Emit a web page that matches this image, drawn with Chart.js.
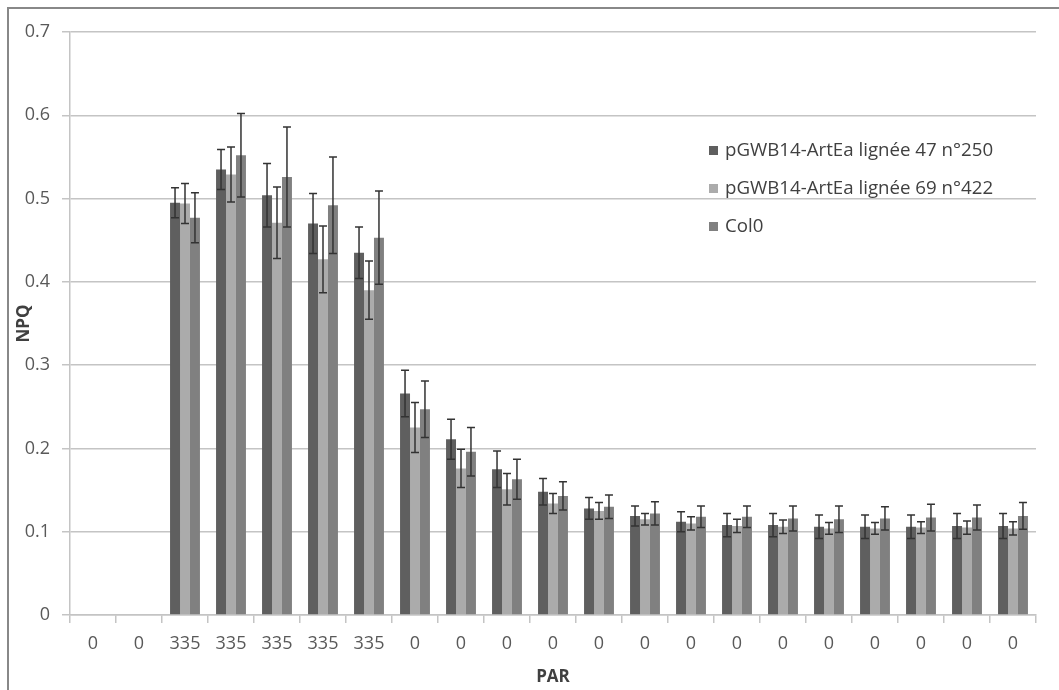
<!DOCTYPE html>
<html>
<head>
<meta charset="utf-8">
<script src="https://cdn.jsdelivr.net/npm/chart.js@4"></script>
<style>
  html, body { margin: 0; padding: 0; background: #fff; }
  #wrap { width: 1059px; height: 690px; }
</style>
</head>
<body>
<div id="wrap"><canvas id="npqChart" width="1059" height="690"></canvas></div>
<script>
const parLabels = ['0','0','335','335','335','335','335','0','0','0','0','0','0','0','0','0','0','0','0','0','0'];
const yTicks = [0, 0.1, 0.2, 0.3, 0.4, 0.5, 0.6, 0.7];
const seriesNames = ['pGWB14-ArtEa lignée 47 n°250', 'pGWB14-ArtEa lignée 69 n°422', 'Col0'];

const npq47 = [null, null, 0.495, 0.535, 0.504, 0.470, 0.435, 0.266, 0.211, 0.175, 0.148, 0.128, 0.119, 0.112, 0.108, 0.108, 0.106, 0.106, 0.106, 0.107, 0.107];
const err47 = [null, null, 0.018, 0.024, 0.038, 0.036, 0.031, 0.028, 0.024, 0.022, 0.016, 0.013, 0.012, 0.012, 0.014, 0.014, 0.014, 0.014, 0.014, 0.015, 0.015];

const npq69 = [null, null, 0.494, 0.529, 0.471, 0.427, 0.390, 0.225, 0.176, 0.151, 0.134, 0.125, 0.115, 0.110, 0.107, 0.106, 0.104, 0.104, 0.105, 0.105, 0.104];
const err69 = [null, null, 0.024, 0.033, 0.043, 0.040, 0.035, 0.030, 0.023, 0.019, 0.012, 0.010, 0.007, 0.008, 0.008, 0.008, 0.007, 0.007, 0.007, 0.008, 0.008];

const npqCol0 = [null, null, 0.477, 0.552, 0.526, 0.492, 0.453, 0.247, 0.196, 0.163, 0.143, 0.130, 0.122, 0.118, 0.118, 0.116, 0.115, 0.116, 0.117, 0.117, 0.119];
const errCol0 = [null, null, 0.030, 0.050, 0.060, 0.058, 0.056, 0.034, 0.029, 0.024, 0.017, 0.014, 0.014, 0.013, 0.013, 0.015, 0.016, 0.014, 0.016, 0.015, 0.016];

const colors = ['#5f5f5f', '#ababab', '#808080'];
const errors = [err47, err69, errCol0];
const textGrey = '#595959';
const lineGrey = '#c4c4c4';

// error bars drawn from the y scale
const errorBars = {
  id: 'errorBars',
  afterDatasetsDraw(chart) {
    const { ctx, scales: { y } } = chart;
    ctx.save();
    ctx.strokeStyle = '#333';
    ctx.lineWidth = 1.5;
    chart.data.datasets.forEach((ds, i) => {
      const meta = chart.getDatasetMeta(i);
      meta.data.forEach((bar, j) => {
        const v = ds.data[j], e = errors[i][j];
        if (v == null || e == null) return;
        const yt = y.getPixelForValue(v + e), yb = y.getPixelForValue(v - e);
        ctx.beginPath();
        ctx.moveTo(bar.x, yt); ctx.lineTo(bar.x, yb);
        ctx.moveTo(bar.x - 4, yt); ctx.lineTo(bar.x + 4, yt);
        ctx.moveTo(bar.x - 4, yb); ctx.lineTo(bar.x + 4, yb);
        ctx.stroke();
      });
    });
    ctx.restore();
  }
};

// legend inside the plot + outer frame
const decor = {
  id: 'decor',
  beforeDraw(chart) {
    const ctx = chart.ctx;
    ctx.save();
    ctx.strokeStyle = '#888';
    ctx.lineWidth = 2;
    ctx.beginPath();
    ctx.moveTo(8, 690); ctx.lineTo(8, 8); ctx.lineTo(1059, 8);
    ctx.stroke();
    ctx.restore();
  },
  afterDraw(chart) {
    const ctx = chart.ctx;
    ctx.save();
    ctx.font = '18.7px "Open Sans"';
    ctx.textBaseline = 'middle';
    seriesNames.forEach((name, i) => {
      const cy = 151 + i * 38;
      ctx.fillStyle = colors[i];
      ctx.fillRect(709, cy - 5, 9, 9);
      ctx.fillStyle = '#404040';
      ctx.fillText(name, 725, cy);
    });
    ctx.restore();
  }
};

new Chart(document.getElementById('npqChart'), {
  type: 'bar',
  data: {
    labels: parLabels,
    datasets: [
      { label: seriesNames[0], data: npq47, backgroundColor: colors[0] },
      { label: seriesNames[1], data: npq69, backgroundColor: colors[1] },
      { label: seriesNames[2], data: npqCol0, backgroundColor: colors[2] }
    ]
  },
  options: {
    responsive: false,
    animation: false,
    datasets: { bar: { categoryPercentage: 0.65, barPercentage: 1.0 } },
    layout: { padding: { top: 32, right: 23, left: 0, bottom: 0 } },
    plugins: { legend: { display: false }, tooltip: { enabled: false } },
    scales: {
      x: {
        afterFit(s) { s.height = 75; },
        grid: { drawOnChartArea: false, tickLength: 8, color: lineGrey, lineWidth: 1.5 },
        border: { color: lineGrey, width: 1.5 },
        ticks: { color: textGrey, font: { family: 'Open Sans', size: 18 }, padding: 10, maxRotation: 0, autoSkip: false },
        title: { display: true, text: 'PAR', color: '#404040', font: { family: 'Open Sans', size: 17, weight: 'bold' }, padding: { top: 0, bottom: 3 } }
      },
      y: {
        min: 0, max: 0.7,
        afterFit(s) { s.width = 70; },
        afterBuildTicks(s) { s.ticks = yTicks.map(v => ({ value: v })); },
        grid: { color: lineGrey, lineWidth: 1.5, tickLength: 8 },
        border: { color: lineGrey, width: 1.5 },
        ticks: { color: textGrey, font: { family: 'Open Sans', size: 18 }, padding: 12,
          callback: v => String(Math.round(v * 10) / 10) },
        title: { display: true, text: 'NPQ', color: '#404040', font: { family: 'Open Sans', size: 17, weight: 'bold' }, padding: { top: 14, bottom: 0 } }
      }
    }
  },
  plugins: [errorBars, decor]
});
</script>
</body>
</html>
